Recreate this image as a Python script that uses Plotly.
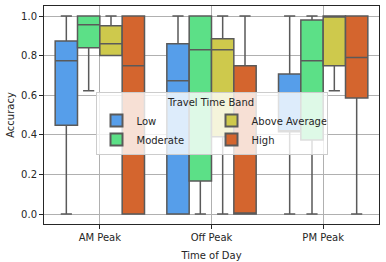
import plotly.graph_objects as go

periods = ["AM Peak", "Off Peak", "PM Peak"]
bands = ["Low", "Moderate", "Above Average", "High"]
colors = {"Low": "#569EEA", "Moderate": "#5CE087", "Above Average": "#CEC94C", "High": "#D4652E"}
legend_rank = {"Low": 1, "Above Average": 2, "Moderate": 3, "High": 4}

q1 = {
    "Low": [0.448, 0.0, 0.415],
    "Moderate": [0.84, 0.167, 0.374],
    "Above Average": [0.80, 0.39, 0.749],
    "High": [0.0, 0.0, 0.586],
}
median = {
    "Low": [0.774, 0.673, 0.415],
    "Moderate": [0.956, 0.83, 0.774],
    "Above Average": [0.86, 0.83, 1.0],
    "High": [0.749, 0.0, 0.791],
}
q3 = {
    "Low": [0.874, 0.86, 0.707],
    "Moderate": [1.0, 1.0, 0.98],
    "Above Average": [0.951, 0.885, 1.0],
    "High": [1.0, 0.749, 1.0],
}
lower = {
    "Low": [0.0, 0.0, 0.0],
    "Moderate": [0.623, 0.0, 0.0],
    "Above Average": [0.80, 0.0, 0.623],
    "High": [0.0, 0.0, 0.0],
}
upper = {
    "Low": [1.0, 1.0, 1.0],
    "Moderate": [1.0, 1.0, 1.0],
    "Above Average": [1.0, 1.0, 1.0],
    "High": [1.0, 1.0, 1.0],
}

fig = go.Figure()
for b in bands:
    fig.add_trace(go.Box(
        name=b, x=periods, q1=q1[b], median=median[b], q3=q3[b],
        lowerfence=lower[b], upperfence=upper[b],
        fillcolor=colors[b], line=dict(color="#5a5a5a", width=1.5),
        whiskerwidth=0.5, boxpoints=False, legendrank=legend_rank[b],
    ))

font = dict(family="DejaVu Sans", size=10, color="#262626")
fig.update_layout(
    width=386, height=262,
    margin=dict(l=44, r=7, t=6, b=38, autoexpand=False),
    paper_bgcolor="white", plot_bgcolor="white",
    boxmode="group", boxgap=0.2, boxgroupgap=0,
    font=font,
    showlegend=True,
    legend=dict(
        orientation="h", x=0.5, xanchor="center", y=0.605, yanchor="top",
        bgcolor="rgba(255,255,255,0.8)", bordercolor="#cccccc", borderwidth=1,
        title=dict(text="Travel Time Band", side="top center", font=font),
        entrywidth=70, font=font, tracegroupgap=0, itemsizing="constant",
    ),
    xaxis=dict(
        title=dict(text="Time of Day", font=font, standoff=9),
        automargin=False,
        range=[-0.5, 2.5], showgrid=True, gridcolor="#b0b0b0", gridwidth=1,
        showline=True, linecolor="#262626", linewidth=1, mirror=True,
        ticks="outside", ticklen=4, tickcolor="#262626", zeroline=False,
    ),
    yaxis=dict(
        title=dict(text="Accuracy", font=font, standoff=4),
        automargin=False,
        range=[-0.0505, 1.0505], tickvals=[0, 0.2, 0.4, 0.6, 0.8, 1.0],
        ticktext=["0.0", "0.2", "0.4", "0.6", "0.8", "1.0"],
        showgrid=True, gridcolor="#b0b0b0", gridwidth=1,
        showline=True, linecolor="#262626", linewidth=1, mirror=True,
        ticks="outside", ticklen=4, tickcolor="#262626", zeroline=False,
    ),
)
fig.write_html("out.html", config={"displayModeBar": False},
               post_script="document.body.style.margin='0';")
